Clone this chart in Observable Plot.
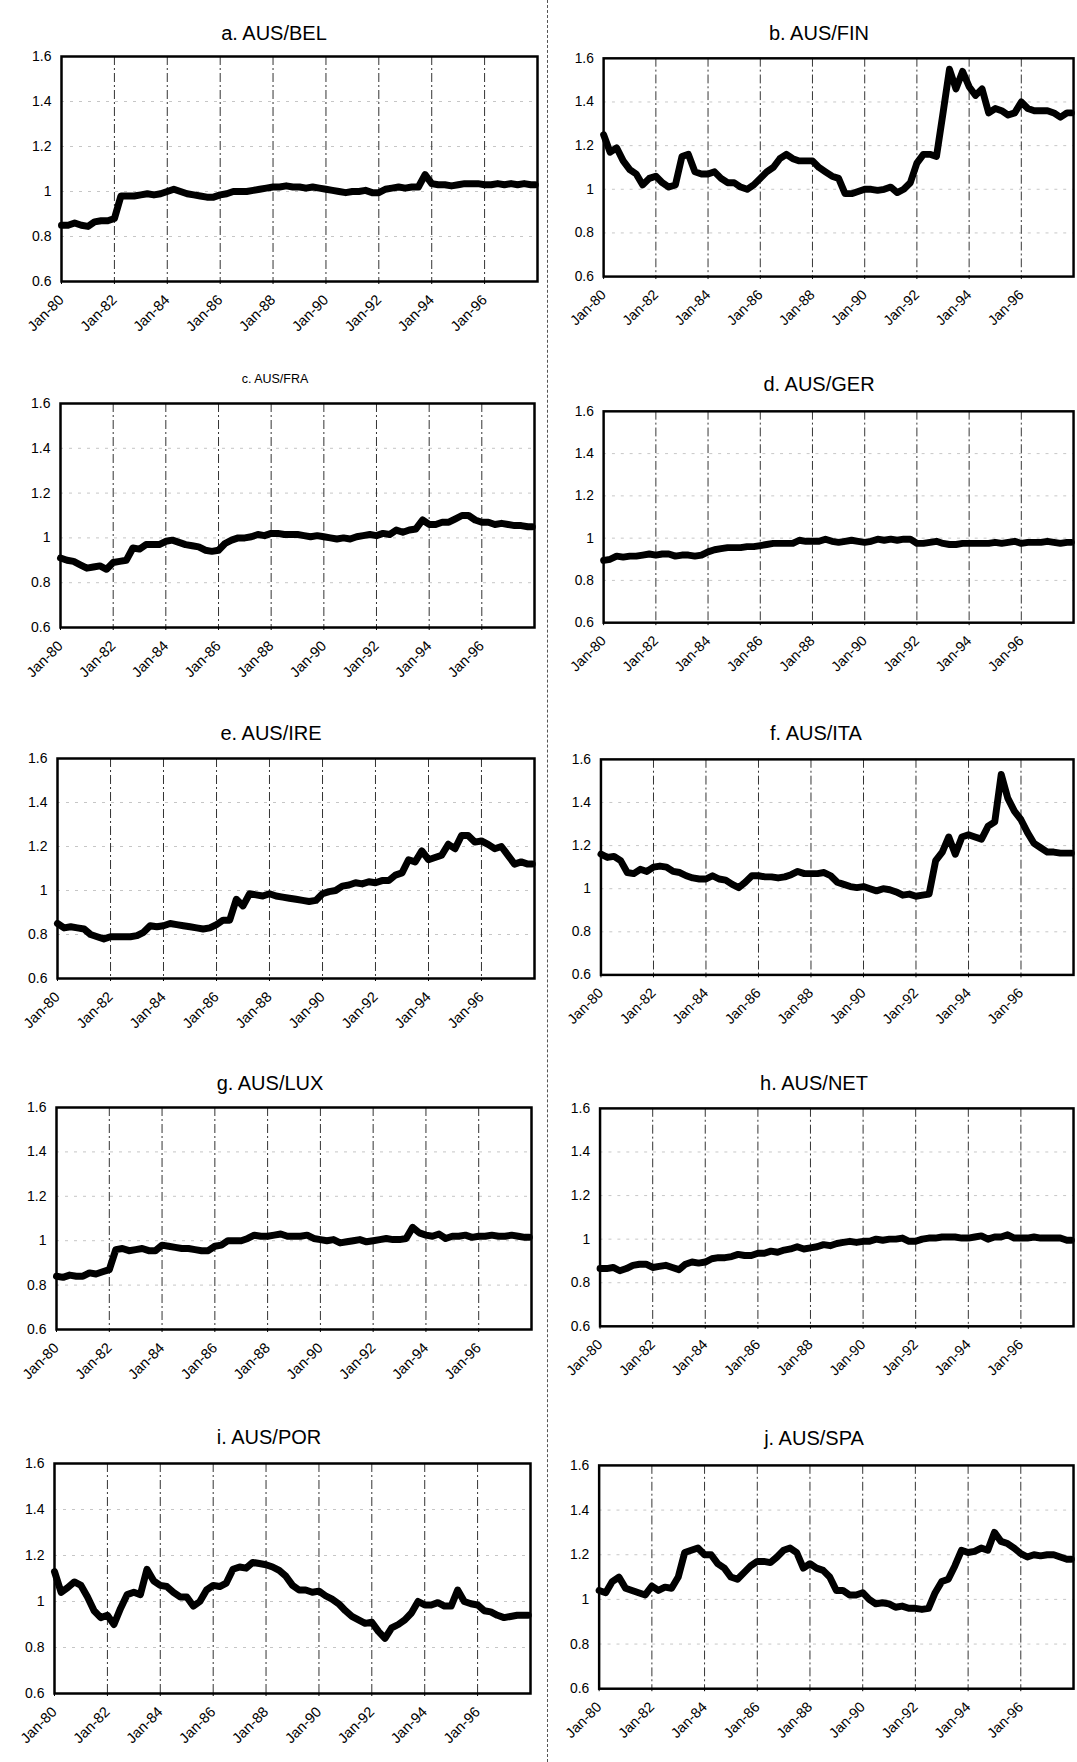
<!DOCTYPE html>
<html>
<head>
<meta charset="utf-8">
<script src="https://cdn.jsdelivr.net/npm/d3@7"></script>
<script src="https://cdn.jsdelivr.net/npm/@observablehq/plot@0.6"></script>
<style>
  html, body { margin: 0; padding: 0; background: #fff; }
  #page { position: relative; width: 1077px; height: 1762px; overflow: hidden; background: #fff;
          font-family: "Liberation Sans", Arial, sans-serif; color: #000; }
  .panel { position: absolute; }
  .title { position: absolute; transform: translate(-50%, -50%); white-space: nowrap; color: #000; }
  .divider { position: absolute; left: 547px; top: 0; width: 0; height: 1762px; border-left: 1px dashed #555; }
</style>
</head>
<body>
<div id="page"><div class="divider"></div></div>
<script>
// ---------- data ----------
const titles = ["a. AUS/BEL", "b. AUS/FIN", "c. AUS/FRA", "d. AUS/GER", "e. AUS/IRE",
                "f. AUS/ITA", "g. AUS/LUX", "h. AUS/NET", "i. AUS/POR", "j. AUS/SPA"];
const yTicks = [0.6, 0.8, 1, 1.2, 1.4, 1.6];
const tickYears = [1980, 1982, 1984, 1986, 1988, 1990, 1992, 1994, 1996];
const xTickLabels = ["Jan-80", "Jan-82", "Jan-84", "Jan-86", "Jan-88", "Jan-90", "Jan-92", "Jan-94", "Jan-96"];

// quarterly observations Jan/Apr/Jul/Oct 1980–1997, plus Dec-97
const ausBel = [
  .85,.85,.86,.85, .845,.865,.87,.87, .88,.98,.98,.98, .985,.99,.985,.99,
  1.0,1.01,1.0,.99, .985,.98,.975,.975, .985,.99,1.0,1.0, 1.0,1.005,1.01,1.015,
  1.02,1.02,1.025,1.02, 1.02,1.015,1.02,1.015, 1.01,1.005,1.0,.995, 1.0,1.0,1.005,.995,
  .995,1.01,1.015,1.02, 1.015,1.02,1.02,1.075, 1.035,1.03,1.03,1.025, 1.03,1.035,1.035,1.035,
  1.03,1.03,1.035,1.03, 1.035,1.03,1.035,1.03, 1.03];
const ausFin = [
  1.25,1.17,1.19,1.13, 1.09,1.07,1.02,1.05, 1.06,1.03,1.01,1.02, 1.15,1.16,1.08,1.07,
  1.07,1.08,1.05,1.03, 1.03,1.01,1.0,1.02, 1.05,1.08,1.10,1.14, 1.16,1.14,1.13,1.13,
  1.13,1.10,1.08,1.06, 1.05,.98,.98,.99, 1.0,1.0,.995,1.0, 1.01,.985,1.0,1.03,
  1.12,1.16,1.16,1.15, 1.35,1.55,1.46,1.54, 1.47,1.43,1.46,1.35, 1.37,1.36,1.34,1.35,
  1.40,1.37,1.36,1.36, 1.36,1.35,1.33,1.35, 1.35];
const ausFra = [
  .91,.90,.895,.88, .865,.87,.875,.86, .89,.895,.90,.955, .95,.97,.97,.97,
  .985,.99,.98,.97, .965,.96,.945,.94, .945,.975,.99,1.0, 1.0,1.005,1.015,1.01,
  1.02,1.02,1.015,1.015, 1.015,1.01,1.005,1.01, 1.005,1.0,.995,1.0, .995,1.005,1.01,1.015,
  1.01,1.02,1.015,1.035, 1.025,1.035,1.04,1.08, 1.06,1.06,1.07,1.07, 1.085,1.10,1.10,1.08,
  1.07,1.07,1.06,1.065, 1.06,1.055,1.055,1.05, 1.05];
const ausGer = [
  .895,.90,.915,.91, .915,.915,.92,.925, .92,.925,.925,.915, .92,.92,.915,.92,
  .935,.945,.95,.955, .955,.955,.96,.96, .965,.97,.975,.975, .975,.975,.99,.985,
  .985,.985,.995,.985, .98,.985,.99,.985, .98,.985,.995,.99, .995,.99,.995,.995,
  .975,.975,.98,.985, .975,.97,.97,.975, .975,.975,.975,.975, .98,.975,.98,.985,
  .975,.98,.98,.98, .985,.98,.975,.98, .98];
const ausIre = [
  .85,.83,.835,.83, .825,.80,.79,.78, .79,.79,.79,.79, .795,.81,.84,.835,
  .84,.85,.845,.84, .835,.83,.825,.83, .845,.865,.865,.96, .93,.985,.98,.975,
  .985,.975,.97,.965, .96,.955,.95,.955, .985,.995,1.0,1.02, 1.025,1.035,1.03,1.04,
  1.035,1.045,1.045,1.07, 1.08,1.14,1.13,1.18, 1.14,1.15,1.16,1.21, 1.19,1.25,1.25,1.22,
  1.225,1.21,1.19,1.20, 1.16,1.12,1.13,1.12, 1.12];
const ausIta = [
  1.16,1.145,1.15,1.13, 1.075,1.07,1.09,1.08, 1.10,1.105,1.10,1.08, 1.075,1.06,1.05,1.045,
  1.045,1.06,1.045,1.04, 1.02,1.005,1.03,1.06, 1.06,1.055,1.055,1.05, 1.055,1.065,1.08,1.07,
  1.07,1.07,1.075,1.06, 1.03,1.02,1.01,1.005, 1.01,1.0,.99,1.0, .995,.985,.97,.975,
  .965,.97,.975,1.13, 1.17,1.24,1.16,1.24, 1.25,1.24,1.23,1.29, 1.31,1.53,1.42,1.36,
  1.32,1.26,1.21,1.19, 1.17,1.17,1.165,1.165, 1.165];
const ausLux = [
  .84,.835,.845,.84, .84,.855,.85,.86, .87,.96,.965,.955, .96,.965,.955,.955,
  .98,.975,.97,.965, .965,.96,.955,.955, .975,.98,1.0,1.0, 1.0,1.01,1.025,1.02,
  1.02,1.025,1.03,1.02, 1.02,1.02,1.025,1.01, 1.005,1.0,1.005,.99, .995,1.0,1.005,.995,
  1.0,1.005,1.01,1.005, 1.005,1.01,1.06,1.035, 1.025,1.02,1.03,1.01, 1.02,1.02,1.025,1.015,
  1.02,1.02,1.025,1.02, 1.02,1.025,1.02,1.015, 1.015];
const ausNet = [
  .865,.865,.87,.855, .865,.88,.885,.885, .87,.875,.88,.87, .86,.885,.895,.89,
  .895,.91,.915,.915, .92,.93,.925,.925, .935,.935,.945,.94, .95,.955,.965,.955,
  .96,.965,.975,.97, .98,.985,.99,.985, .99,.99,1.0,.995, 1.0,1.0,1.005,.99,
  .99,1.0,1.005,1.005, 1.01,1.01,1.01,1.005, 1.005,1.01,1.015,1.0, 1.01,1.01,1.02,1.005,
  1.005,1.005,1.01,1.005, 1.005,1.005,1.005,.995, .995];
const ausPor = [
  1.13,1.04,1.06,1.085, 1.07,1.02,.96,.93, .94,.90,.97,1.03, 1.04,1.03,1.14,1.09,
  1.07,1.065,1.04,1.02, 1.02,.98,1.0,1.05, 1.07,1.065,1.08,1.14, 1.15,1.145,1.17,1.165,
  1.16,1.15,1.135,1.11, 1.07,1.05,1.05,1.04, 1.045,1.025,1.01,.99, .96,.935,.92,.905,
  .91,.87,.84,.885, .90,.92,.95,1.0, .985,.985,.995,.98, .98,1.05,1.0,.99,
  .985,.96,.955,.94, .93,.935,.94,.94, .94];
const ausSpa = [
  1.04,1.03,1.08,1.10, 1.05,1.04,1.03,1.02, 1.06,1.04,1.055,1.05, 1.10,1.21,1.22,1.23,
  1.20,1.20,1.16,1.14, 1.10,1.09,1.12,1.15, 1.17,1.17,1.165,1.19, 1.22,1.23,1.21,1.14,
  1.16,1.14,1.13,1.10, 1.04,1.04,1.02,1.02, 1.03,1.0,.98,.985, .98,.965,.97,.96,
  .96,.955,.96,1.03, 1.08,1.09,1.15,1.22, 1.21,1.215,1.23,1.22, 1.30,1.26,1.25,1.23,
  1.205,1.19,1.20,1.195, 1.20,1.20,1.19,1.18, 1.18];
const seriesList = [ausBel, ausFin, ausFra, ausGer, ausIre, ausIta, ausLux, ausNet, ausPor, ausSpa];

// observation dates
const obsDates = [];
for (let y = 1980; y <= 1997; y++) for (const m of [0, 3, 6, 9]) obsDates.push(new Date(Date.UTC(y, m, 1)));
obsDates.push(new Date(Date.UTC(1997, 11, 1)));

// ---------- layout (frame edges in page px: left, right, top, bottom; title position) ----------
const layout = [
  {l: 61,  r: 537,  t: 56,   b: 281,  tx: 274, ty: 33,   ts: 20},
  {l: 604, r: 1082, t: 58,   b: 280,  tx: 819, ty: 33,   ts: 20},
  {l: 60,  r: 534,  t: 403,  b: 627,  tx: 275, ty: 379,  ts: 12.5},
  {l: 604, r: 1082, t: 411,  b: 626,  tx: 819, ty: 384,  ts: 20},
  {l: 57,  r: 534,  t: 758,  b: 978,  tx: 271, ty: 733,  ts: 20},
  {l: 601, r: 1079, t: 759,  b: 977,  tx: 816, ty: 733,  ts: 20},
  {l: 56,  r: 531,  t: 1107, b: 1329, tx: 270, ty: 1083, ts: 20},
  {l: 600, r: 1078, t: 1108, b: 1328, tx: 814, ty: 1083, ts: 20},
  {l: 54,  r: 530,  t: 1463, b: 1693, tx: 269, ty: 1437, ts: 20},
  {l: 599, r: 1077, t: 1465, b: 1690, tx: 814, ty: 1438, ts: 20}
];

const page = document.getElementById("page");
const tickDates = tickYears.map(y => new Date(Date.UTC(y, 0, 1)));
const gridDates = tickDates.slice(1);
const fmtY = d => String(+d.toFixed(1));
const fmtX = d => xTickLabels[tickYears.indexOf(d.getUTCFullYear())];

titles.forEach((title, k) => {
  const L = layout[k];
  const data = obsDates.map((d, i) => ({date: d, value: seriesList[k][i]}));
  const svgLeft = (k % 2 === 0) ? 0 : 552;
  const mt = 10, mb = 60, mr = 4;
  const chart = Plot.plot({
    width: L.r - svgLeft + mr,
    height: (L.b - L.t) + mt + mb,
    marginLeft: L.l - svgLeft, marginRight: mr, marginTop: mt, marginBottom: mb,
    x: {type: "utc", domain: [new Date(Date.UTC(1980, 0, 1)), new Date(Date.UTC(1998, 0, 1))], label: null},
    y: {domain: [0.6, 1.6], label: null},
    style: {fontFamily: "'Liberation Sans', Arial, sans-serif", fontSize: "14px", color: "#000",
            background: "transparent", overflow: "visible"},
    marks: [
      Plot.ruleY([0.8, 1, 1.2, 1.4], {stroke: "#b8b8b8", strokeWidth: 0.8, strokeDasharray: "3,6"}),
      Plot.ruleX(gridDates, {stroke: "#333", strokeWidth: 1, strokeDasharray: "9,3,2,3"}),
      Plot.line(data, {x: "date", y: "value", stroke: "#000", strokeWidth: 7,
                       strokeLinejoin: "round", strokeLinecap: "round"}),
      Plot.frame({stroke: "#000", strokeWidth: 2.5}),
      Plot.axisY({ticks: yTicks, tickFormat: fmtY, tickSize: 0, tickPadding: 10, fontSize: 14}),
      Plot.axisX({ticks: tickDates, tickFormat: fmtX, tickRotate: -45, tickSize: 3, tickPadding: 13, fontSize: 14.5})
    ]
  });
  const wrap = document.createElement("div");
  wrap.className = "panel";
  wrap.style.left = svgLeft + "px";
  wrap.style.top = (L.t - mt) + "px";
  wrap.appendChild(chart);
  page.appendChild(wrap);

  const t = document.createElement("div");
  t.className = "title";
  t.style.left = L.tx + "px";
  t.style.top = L.ty + "px";
  t.style.fontSize = L.ts + "px";
  t.textContent = title;
  page.appendChild(t);
});
</script>
</body>
</html>
